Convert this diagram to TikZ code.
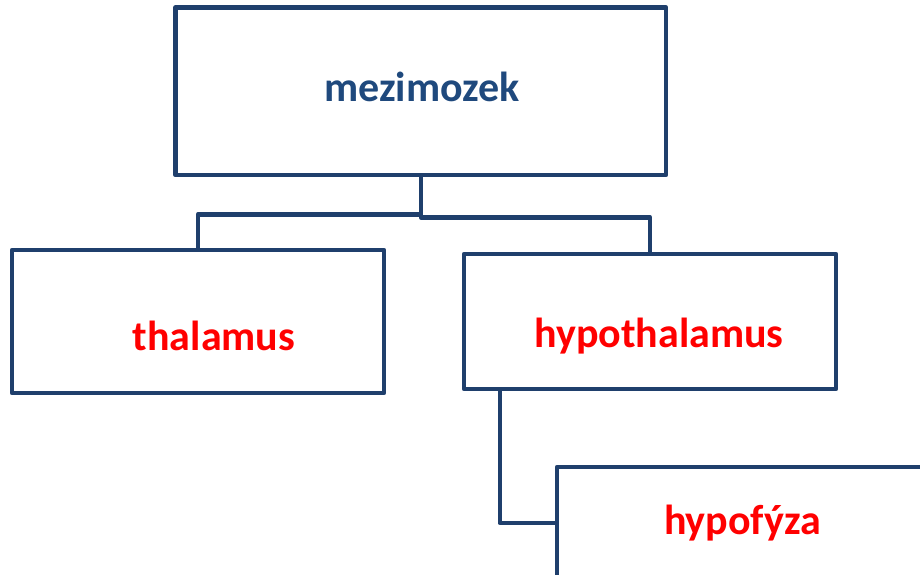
\documentclass[tikz,border=0pt]{standalone}
\usepackage{fontspec}
\usetikzlibrary{calc}
\setmainfont{Carlito}
\definecolor{boxline}{HTML}{1F3F6C}
\definecolor{titleblue}{HTML}{1F497D}
\definecolor{partred}{HTML}{FF0000}
\begin{document}
\begin{tikzpicture}[x=1bp,y=-1bp,
  box/.style={draw=boxline, line width=4.5bp, line join=round, fill=white,
    inner sep=0pt, rectangle},
  link/.style={draw=boxline, line width=4.5bp, line join=round},
  lbl/.style={anchor=base, inner sep=0pt,
    font=\fontsize{42bp}{50bp}\selectfont\bfseries}]
\useasboundingbox (0,0) rectangle (920,575);
\clip (0,0) rectangle (920,575);

% boxes
\node[box, minimum width=490.5bp, minimum height=167.5bp] (mezi) at (420.75,91.25) {};
\node[box, minimum width=372bp, minimum height=143bp] (thal) at (198,321.5) {};
\node[box, minimum width=372bp, minimum height=135bp] (hypo) at (650,321.5) {};
\node[box, minimum width=460bp, minimum height=112bp] (hypof) at (787,523) {};

% connectors
\draw[link] (mezi.south) -- ++(0,37) -| (thal.north);
\draw[link] (mezi.south) -- ++(0,40) -| (hypo.north);
\coordinate (hypoout) at ($(hypo.south west)+(38,0)$);
\draw[link] (hypoout) |- (hypof.west);

% labels
\node[lbl, text=titleblue] (tmezi) at (422,102) {mezimozek};
\node[lbl, text=partred] (tthal) at (214,350) {thalamus};
\node[lbl, text=partred] (thypo) at (659,347) {hypothalamus};
\node[lbl, text=partred] (thypof) at (742.5,534) {hypofýza};
\end{tikzpicture}
\end{document}
